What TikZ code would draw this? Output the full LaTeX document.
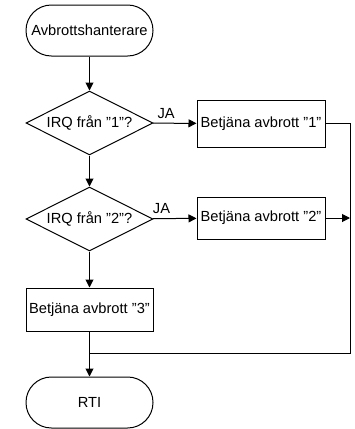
\documentclass[tikz,border=0pt]{standalone}
\usepackage{fontspec}
\setmainfont{Liberation Sans}
\usetikzlibrary{arrows.meta,shapes.geometric}

\tikzset{
  flow/.style={line width=0.75pt},
  arr/.style={flow,-{Triangle[length=6pt,width=6pt]}},
  termbox/.style={draw,flow,rounded corners=19pt,minimum width=95.25pt,minimum height=38.25pt,inner sep=0pt},
  testbox/.style={draw,flow,diamond,aspect=1.9,minimum width=95.25pt,minimum height=48pt,inner sep=0pt},
  workbox/.style={draw,flow,rectangle,minimum width=96pt,inner sep=0pt}
}

\begin{document}
\begin{tikzpicture}[x=0.75pt,y=-0.75pt,font=\fontsize{11}{13}\selectfont]
\useasboundingbox (0,0) rectangle (354,429);
\node[termbox] (start) at (89.5,30.5) {Avbrottshanterare};
\node[testbox] (irq1) at (89.5,123) {IRQ från ”1”?};
\node[testbox] (irq2) at (89.5,219) {IRQ från ”2”?};
\node[workbox,minimum height=35.25pt] (serv1) at (261,123.5) {Betjäna avbrott ”1”};
\node[workbox,minimum height=31.5pt] (serv2) at (261,218) {Betjäna avbrott ”2”};
\node[workbox,minimum width=95.25pt,minimum height=32.25pt] (serv3) at (89.5,309.5) {Betjäna avbrott ”3”};
\node[termbox] (rti) at (89.5,402.5) {RTI};
\coordinate (rb) at (350,353);
\coordinate (join) at (89.5,353);
\draw[arr] (start) -- (irq1);
\draw[arr] (irq1) -- (serv1) node[above,pos=0.3] {JA};
\draw[arr] (irq1) -- (irq2);
\draw[arr] (irq2) -- (serv2) node[above,pos=0.2] {JA};
\draw[arr] (irq2) -- (serv3);
\draw[flow] (serv1.east) -| (rb) -- (join);
\draw[arr] (serv2.east) -- (serv2.east -| rb);
\draw[arr] (serv3) -- (rti);
\end{tikzpicture}
\end{document}
